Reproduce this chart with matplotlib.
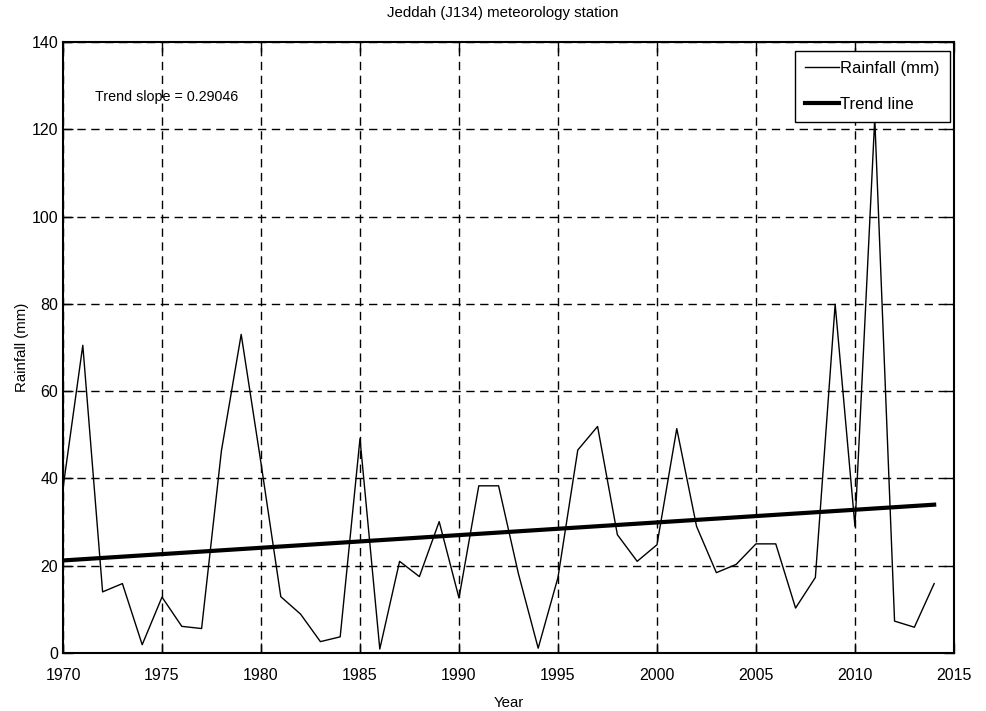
import matplotlib
matplotlib.use("Agg")
import matplotlib.pyplot as plt
import numpy as np

plt.rcParams['font.family'] = ['Liberation Sans', 'DejaVu Sans']

years = list(range(1970, 2015))
rainfall = [37.8, 70.5, 14.0, 15.9, 1.9, 12.8, 6.1, 5.6, 46.3, 73.0,
            43.5, 12.9, 8.9, 2.6, 3.7, 49.1, 0.9, 21.0, 17.5, 30.1,
            12.6, 38.3, 38.3, 18.2, 1.1, 17.3, 46.5, 51.9, 27.1, 21.0,
            24.8, 51.4, 29.0, 18.4, 20.3, 25.0, 25.0, 10.3, 17.3, 79.9,
            29.0, 122.5, 7.3, 5.9, 15.9]
trend_slope = 0.29046
trend_start = 21.2  # trend value at first year

trend_x = [years[0], years[-1]]
trend_y = [trend_start, trend_start + trend_slope * (years[-1] - years[0])]

xticks = [1970, 1975, 1980, 1985, 1990, 1995, 2000, 2005, 2010, 2015]
yticks = [0, 20, 40, 60, 80, 100, 120, 140]

fig = plt.figure(figsize=(9.86, 7.11), dpi=100)
ax = fig.add_axes([0.0639, 0.0816, 0.9036, 0.8594])

ax.plot(years, rainfall, color='black', lw=1.0, label='Rainfall (mm)', zorder=3)
ax.plot(trend_x, trend_y, color='black', lw=3.0, label='Trend line', zorder=3)

ax.set_xlim(1970, 2015)
ax.set_ylim(0, 140)
ax.set_xticks(xticks)
ax.set_yticks(yticks)
ax.tick_params(direction='in', length=7, width=1, top=True, right=True,
               labelsize=11.5, colors='black')
ax.tick_params(axis='x', pad=11)
ax.tick_params(axis='y', pad=3.5)
ax.grid(True, color='black', linestyle=(0, (6, 4)), linewidth=1.0)
for sp in ax.spines.values():
    sp.set_linewidth(1.5)

fig.text(0.5095, 1 - 13 / 711, 'Jeddah (J134) meteorology station',
         fontsize=10.8, ha='center', va='center')
ax.set_xlabel('Year', fontsize=10.8, labelpad=9)
ax.set_ylabel('Rainfall (mm)', fontsize=10.8, labelpad=2)

ax.text(1971.6, 127.4, 'Trend slope = 0.29046', fontsize=10.3,
        ha='left', va='center')

leg = ax.legend(loc='upper right', bbox_to_anchor=(0.9955, 0.9853),
                fontsize=12, fancybox=False,
                framealpha=1, edgecolor='black', borderaxespad=0,
                handlelength=2.0, handletextpad=0.1, borderpad=0.6,
                labelspacing=1.25)
leg.get_frame().set_linewidth(1.0)
leg.set_zorder(5)

fig.savefig('out.png', dpi=100)
